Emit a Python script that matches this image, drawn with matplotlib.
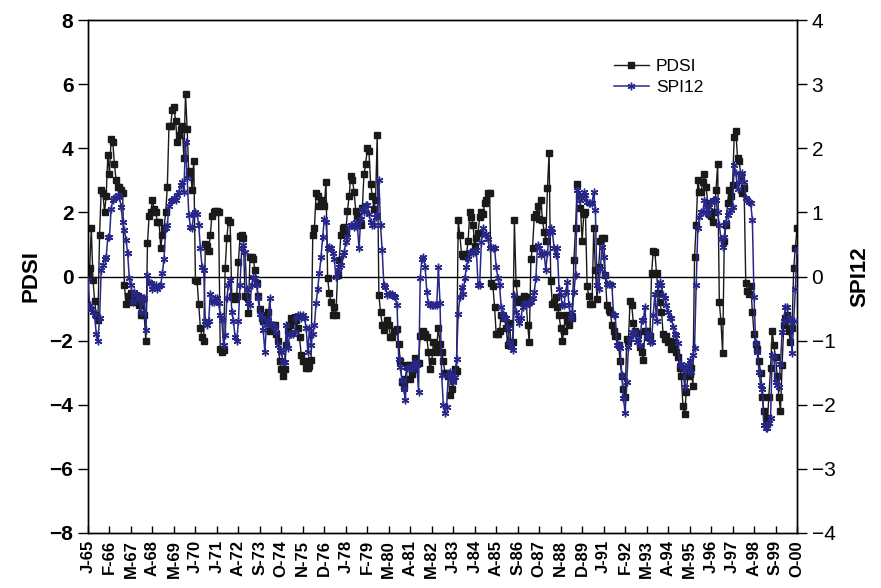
import numpy as np
import matplotlib
matplotlib.use("Agg")
import matplotlib.pyplot as plt
from matplotlib.lines import Line2D

plt.rcParams['font.family'] = ['Liberation Sans', 'DejaVu Sans']

# Monthly values, Jan 1965 - Oct 2000 (one row per year)
pdsi_rows = [
    [0.05, 0.25, 1.5, -0.1, -0.75, -1.2, -1.35, 1.3, 2.7, 2.6, 2.0, 2.5],
    [3.8, 3.2, 4.3, 4.2, 3.5, 3.0, 2.8, 2.8, 2.7, 2.6, -0.25, -0.85],
    [-0.6, -0.7, -0.5, -0.8, -0.55, -0.75, -0.6, -0.9, -1.2, -0.7, -1.2, -2.0],
    [1.05, 1.9, 2.0, 2.4, 2.1, 2.0, 1.7, 1.7, 0.9, 1.3, 1.5, 2.0],
    [2.8, 4.7, 4.7, 5.2, 5.3, 4.85, 4.2, 4.4, 4.6, 4.7, 3.7, 5.7],
    [4.6, 3.2, 3.3, 2.7, 3.6, -0.1, -0.15, -0.87, -1.6, -1.9, -2.0, 1.0],
    [0.95, 0.8, 1.3, 1.9, 2.0, 2.05, 2.05, 2.0, -2.25, -2.35, -2.3, 0.25],
    [1.2, 1.75, 1.7, -0.6, -0.63, -0.7, -0.6, 0.45, 1.25, 1.3, 1.2, -0.6],
    [-0.65, -1.15, 0.6, 0.6, 0.55, 0.2, -0.2, -0.6, -1.0, -1.3, -1.4, -1.4],
    [-1.2, -1.1, -1.7, -1.5, -1.5, -1.5, -1.8, -2.0, -2.65, -2.9, -3.1, -2.9],
    [-2.15, -1.7, -1.5, -1.3, -1.4, -1.25, -1.35, -1.6, -1.9, -2.45, -2.65, -2.65],
    [-2.85, -2.85, -2.8, -2.6, 1.3, 1.5, 2.6, 2.5, 2.2, 2.4, 2.3, 2.2],
    [2.95, -0.05, -0.53, -0.8, -1.2, -0.95, -1.2, 0.05, 0.5, 1.3, 1.5, 1.55],
    [1.4, 2.05, 2.5, 3.15, 3.0, 2.65, 2.05, 1.9, 1.75, 1.6, 2.15, 3.2],
    [3.5, 4.0, 3.9, 2.9, 2.5, 2.1, 2.4, 4.4, -0.58, -1.1, -1.5, -1.67],
    [-1.5, -1.36, -1.5, -1.88, -1.88, -1.7, -1.7, -1.65, -2.1, -2.65, -3.3, -3.4],
    [-3.2, -2.75, -2.75, -3.2, -3.05, -2.9, -2.55, -2.7, -2.7, -1.85, -1.8, -1.7],
    [-1.8, -1.9, -2.35, -2.9, -2.65, -2.05, -2.35, -2.15, -1.6, -2.1, -2.35, -2.65],
    [-3.0, -3.0, -3.1, -3.7, -3.5, -3.2, -2.9, -2.95, 1.75, 1.3, 0.7, 0.65],
    [0.65, 0.7, 1.1, 2.0, 1.85, 1.6, 0.95, 1.2, 1.35, 1.85, 2.0, 1.95],
    [2.3, 2.4, 2.6, 2.6, -0.2, -0.3, -0.95, -1.8, -1.8, -1.7, -1.2, -1.25],
    [-1.3, -1.6, -2.15, -1.45, -2.1, -2.05, 1.75, -0.2, -0.7, -0.8, -0.7, -0.7],
    [-0.6, -0.65, -1.5, -2.05, 0.55, 0.9, 1.85, 1.95, 2.2, 1.8, 2.4, 1.75],
    [1.4, 1.1, 2.75, 3.85, -0.15, -0.85, -0.8, -0.65, -0.95, -1.2, -1.6, -2.0],
    [-1.7, -1.2, -1.4, -1.5, -1.25, -1.3, 0.5, 1.5, 2.9, 2.5, 2.15, 1.1],
    [1.95, 2.0, -0.3, -0.6, -0.85, -0.85, 1.5, 0.2, -0.7, 0.3, 1.1, 1.2],
    [1.2, 0.05, -0.9, -1.05, -1.1, -1.5, -1.7, -1.85, -1.85, -2.15, -2.65, -3.1],
    [-3.5, -3.75, -1.95, -2.0, -0.75, -0.9, -1.45, -1.7, -1.75, -1.75, -2.2, -2.35],
    [-2.6, -1.7, -1.7, -1.9, -1.85, 0.1, 0.8, 0.77, 0.1, -0.5, -0.8, -1.1],
    [-1.8, -1.95, -1.85, -2.05, -2.0, -2.25, -2.05, -2.15, -2.35, -2.5, -2.85, -3.1],
    [-4.05, -4.3, -3.6, -3.1, -3.05, -2.85, -3.4, 0.6, 1.6, 3.0, 2.65, 2.65],
    [2.95, 3.2, 2.8, 2.3, 1.95, 1.9, 1.7, 2.0, 2.7, 3.5, -0.8, -1.4],
    [-2.4, 1.1, 1.6, 2.3, 2.7, 2.5, 2.85, 4.35, 4.55, 3.7, 3.6, 3.15],
    [2.6, 2.75, -0.2, -0.45, -0.55, -0.3, -1.1, -1.8, -2.1, -2.25, -2.65, -3.0],
    [-3.75, -4.2, -4.4, -4.6, -3.75, -2.85, -1.7, -2.15, -2.5, -3.1, -3.75, -4.2],
    [-2.75, -1.5, -1.3, -1.2, -1.7, -2.05, -1.6, 0.25, 0.9, 1.5],
]

spi_rows = [
    [-0.05, -0.45, -0.5, -0.55, -0.6, -0.9, -1.0, -0.65, 0.1, 0.18, 0.28, 0.3],
    [0.62, 0.62, 1.06, 1.19, 1.22, 1.24, 1.27, 1.24, 1.09, 0.85, 0.72, 0.57],
    [0.36, -0.03, -0.13, -0.4, -0.24, -0.27, -0.34, -0.32, -0.55, -0.34, -0.34, -0.84],
    [0.02, -0.08, -0.1, -0.2, -0.15, -0.13, -0.2, -0.15, -0.13, 0.05, 0.28, 0.75],
    [0.8, 1.1, 1.17, 1.19, 1.22, 1.19, 1.27, 1.32, 1.42, 1.48, 1.32, 2.1],
    [1.53, 0.96, 0.77, 0.75, 0.98, 1.0, 0.98, 0.8, 0.44, 0.15, 0.1, -0.7],
    [-0.76, -0.7, -0.27, -0.4, -0.4, -0.34, -0.34, -0.42, -0.6, -0.68, -1.07, -0.91],
    [-0.34, -0.13, -0.06, -0.55, -0.7, -0.94, -1.0, -0.7, -0.13, 0.44, 0.49, 0.38],
    [-0.19, -0.42, -0.45, -0.13, 0.0, -0.03, -0.13, -0.34, -0.58, -0.65, -0.84, -1.17],
    [-0.76, -0.68, -0.34, -0.76, -0.75, -0.78, -0.86, -1.07, -1.15, -1.17, -1.33, -1.33],
    [-0.76, -1.12, -0.89, -0.89, -0.89, -0.86, -0.65, -0.6, -0.6, -0.65, -0.6, -0.65],
    [-0.81, -1.17, -0.81, -1.07, -0.89, -0.76, -0.42, -0.19, 0.05, 0.3, 0.62, 0.9],
    [0.85, 0.44, 0.46, 0.44, 0.36, 0.28, 0.0, 0.07, 0.15, 0.18, 0.33, 0.38],
    [0.54, 0.62, 0.77, 0.8, 0.8, 0.77, 0.85, 0.77, 0.44, 0.9, 1.06, 1.0],
    [1.12, 1.11, 0.98, 0.85, 0.8, 0.8, 0.93, 0.96, 1.5, 0.8, 0.41, -0.13],
    [-0.16, -0.29, -0.27, -0.27, -0.27, -0.3, -0.32, -0.45, -1.28, -1.41, -1.62, -1.75],
    [-1.93, -1.43, -1.43, -1.41, -1.45, -1.38, -1.33, -1.38, -1.8, -0.03, 0.28, 0.3],
    [0.15, -0.24, -0.42, -0.45, -0.45, -0.45, -0.45, -0.45, 0.15, -0.42, -1.54, -2.0],
    [-2.13, -2.03, -1.54, -1.49, -1.59, -1.64, -1.56, -1.28, -0.58, -0.32, -0.16, -0.27],
    [-0.03, 0.15, 0.28, 0.38, 0.38, 0.36, 0.38, 0.41, -0.13, -0.13, 0.54, 0.75],
    [0.64, 0.67, 0.59, 0.44, 0.46, 0.44, 0.44, 0.15, -0.03, -0.13, -0.47, -0.58],
    [-0.65, -0.65, -0.81, -1.02, -1.1, -1.15, -0.29, -0.55, -0.65, -0.73, -0.65, -0.47],
    [-0.42, -0.45, -0.42, -0.42, -0.4, -0.34, -0.24, -0.03, 0.49, 0.44, 0.33, 0.36],
    [0.36, 0.1, 0.36, 0.7, 0.75, 0.7, 0.44, 0.33, 0.44, -0.19, -0.29, -0.45],
    [-0.45, -0.24, -0.08, -0.45, -0.65, -0.55, -0.24, 0.02, 1.35, 1.27, 1.19, 1.22],
    [1.32, 1.27, 1.16, 1.14, 1.14, 1.14, 1.32, 1.03, -0.13, -0.19, 0.12, 0.46],
    [0.3, 0.02, -0.11, -0.11, -0.11, -0.13, -0.6, -0.6, -1.07, -1.07, -1.12, -1.54],
    [-1.9, -2.13, -1.64, -1.1, -0.97, -0.86, -0.91, -0.86, -1.02, -0.97, -1.07, -0.68],
    [-0.68, -0.47, -0.94, -0.89, -1.02, -1.02, -0.6, -0.27, -0.7, -0.13, -0.08, -0.13],
    [-0.29, -0.34, -0.45, -0.55, -0.65, -0.65, -0.78, -0.89, -0.91, -1.04, -1.38, -1.36],
    [-1.41, -1.72, -1.46, -1.38, -1.3, -1.49, -1.23, -1.12, -0.13, 0.75, 0.93, 1.0],
    [1.0, 1.19, 1.09, 0.98, 1.09, 1.16, 1.19, 1.19, 1.19, 1.0, 0.8, 0.59],
    [0.46, 0.62, 0.85, 0.96, 1.0, 1.03, 1.09, 1.74, 1.61, 1.37, 1.48, 1.58],
    [1.61, 1.48, 1.22, 1.19, 1.16, 1.14, 0.88, -0.32, -1.04, -1.17, -1.49, -1.69],
    [-1.75, -2.32, -2.37, -2.37, -2.29, -2.21, -1.23, -1.25, -1.64, -1.69, -1.72, -1.36],
    [-0.86, -0.7, -0.47, -0.47, -0.65, -0.7, -1.2, -0.7, -0.2, 0.41],
]

tick_labels = ["J-65", "F-66", "M-67", "A-68", "M-69", "J-70", "J-71", "A-72",
               "S-73", "O-74", "N-75", "D-76", "J-78", "F-79", "M-80", "A-81",
               "M-82", "J-83", "J-84", "A-85", "S-86", "O-87", "N-88", "D-89",
               "J-91", "F-92", "M-93", "A-94", "M-95", "J-96", "J-97", "A-98",
               "S-99", "O-00"]

pdsi = np.array([v for r in pdsi_rows for v in r])
spi = np.array([v for r in spi_rows for v in r])
x = np.arange(len(pdsi))

fig = plt.figure(figsize=(8.81, 5.88), dpi=100)
ax = fig.add_axes([88/881, 1-533/588, (797-88)/881, (533-20)/588])
ax2 = ax.twinx()

navy = '#27278a'
ax.axhline(0, color='black', lw=1.0, zorder=1)
l1, = ax.plot(x, pdsi, color='#1a1a1a', lw=1.0, marker='s', ms=3.8,
              mfc='#1a1a1a', mec='#1a1a1a', zorder=2)
l2, = ax2.plot(x, spi, color=navy, lw=1.1, marker=(6, 2, 0), ms=5.5,
               mec=navy, mew=1.0, zorder=3)

ax.set_xlim(0, len(pdsi) - 1)
ax.set_ylim(-8, 8)
ax2.set_ylim(-4, 4)
ax.set_yticks(np.arange(-8, 9, 2))
ax2.set_yticks(np.arange(-4, 5, 1))
ax.set_yticklabels([f"{v}".replace('-', '\u2212') for v in range(-8, 9, 2)],
                   fontsize=15, fontweight='bold')
ax2.set_yticklabels([f"{v}".replace('-', '\u2212') for v in range(-4, 5, 1)],
                    fontsize=15)
ax.set_xticks(np.arange(0, len(pdsi), 13))
ax.set_xticklabels(tick_labels, rotation=90, fontsize=12, fontweight='bold')
ax.tick_params(axis='x', direction='in', length=5, width=1, pad=5)
ax.tick_params(axis='y', direction='out', length=7, width=1)
ax2.tick_params(axis='y', direction='out', length=7, width=1)
for a in (ax, ax2):
    for s in a.spines.values():
        s.set_linewidth(1.0)

ax.set_ylabel('PDSI', fontsize=16, fontweight='bold', labelpad=6)
ax2.set_ylabel('SPI12', fontsize=16, fontweight='bold', labelpad=10)

h1 = Line2D([], [], color='#1a1a1a', lw=1.0, marker='s', ms=3.8)
h2 = Line2D([], [], color=navy, lw=1.1, marker=(6, 2, 0), ms=5.5, mew=1.0)
ax2.legend([h1, h2], ['PDSI', 'SPI12'], loc='upper left',
           bbox_to_anchor=(0.72, 0.955), frameon=False, fontsize=12.5,
           handlelength=2.0, handletextpad=0.4, labelspacing=0.35)

fig.savefig('out.png', dpi=100)
